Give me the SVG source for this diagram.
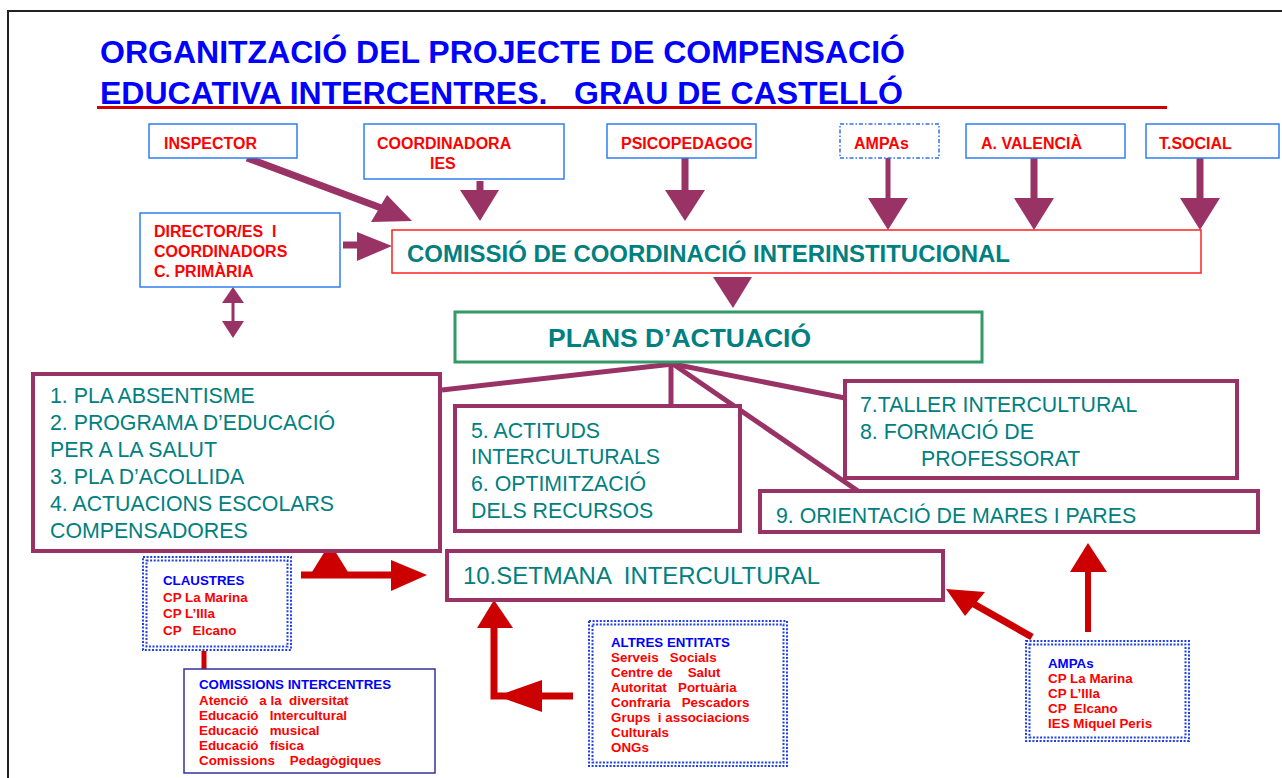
<svg xmlns="http://www.w3.org/2000/svg" width="1282" height="778" viewBox="0 0 1282 778">
<style>
text{font-family:"Liberation Sans",Arial,sans-serif}
.title{font-size:31px;font-weight:bold;fill:#0000ff}
.top{font-size:16px;font-weight:bold;fill:#ff0000}
.bbox{fill:#fff;stroke:#2f7fef;stroke-width:1.5}
.pbox{fill:#fff;stroke:#993366;stroke-width:4}
.teal{fill:#008080;font-size:21.3px}
.tealb{fill:#008080;font-weight:bold}
.sm{font-size:13.4px;font-weight:bold;fill:#ff0000}
.smb{font-size:13.3px;font-weight:bold;fill:#0000ff}
.dot{fill:none;stroke:#1f3fe8;stroke-width:2;stroke-dasharray:2 1.6}
.pl{stroke:#993366;fill:none}
.pf{fill:#993366}
.rl{stroke:#cc0000;fill:none}
.rf{fill:#cc0000}
</style>
<rect x="0" y="0" width="1282" height="778" fill="#fff"/>
<path d="M8,778 V11 H1282" fill="none" stroke="#222" stroke-width="2"/>

<g id="title">
<text class="title" x="100" y="63" textLength="805" lengthAdjust="spacingAndGlyphs">ORGANITZACIÓ DEL PROJECTE DE COMPENSACIÓ</text>
<text class="title" x="100" y="104" textLength="803" lengthAdjust="spacingAndGlyphs" xml:space="preserve">EDUCATIVA INTERCENTRES.   GRAU DE CASTELLÓ</text>
<line x1="97" y1="107.5" x2="1167" y2="107.5" stroke="#cc0000" stroke-width="3"/>
</g>

<g id="connectors">
<line class="pl" x1="247" y1="158" x2="392" y2="212" stroke-width="7"/>
<polygon class="pf" points="387,195 371,222 412,221"/>
<line class="pl" x1="480" y1="181" x2="480" y2="192" stroke-width="7"/>
<polygon class="pf" points="460,190 499,190 480,221"/>
<line class="pl" x1="685" y1="158" x2="685" y2="192" stroke-width="7"/>
<polygon class="pf" points="665,190 705,190 685,221"/>
<line class="pl" x1="888" y1="158" x2="888" y2="200" stroke-width="5"/>
<polygon class="pf" points="868,198 908,198 888,230"/>
<line class="pl" x1="1034" y1="158" x2="1034" y2="200" stroke-width="7"/>
<polygon class="pf" points="1014,198 1054,198 1034,230"/>
<line class="pl" x1="1200" y1="158" x2="1200" y2="200" stroke-width="7"/>
<polygon class="pf" points="1180,198 1220,198 1200,230"/>
<line class="pl" x1="343" y1="245" x2="360" y2="245" stroke-width="7"/>
<polygon class="pf" points="357,232 357,261 392,246"/>
<polygon class="pf" points="713,277 752,277 733,308"/>
<polygon class="pf" points="233,287 222,303 244,303"/>
<line class="pl" x1="233" y1="302" x2="233" y2="322" stroke-width="3"/>
<polygon class="pf" points="222,321 244,321 233,338"/>
<line class="pl" x1="673" y1="364" x2="442" y2="390" stroke-width="5"/>
<line class="pl" x1="671" y1="364" x2="671" y2="406" stroke-width="5"/>
<line class="pl" x1="673" y1="364" x2="845" y2="398" stroke-width="5"/>
<line class="pl" x1="673" y1="364" x2="858" y2="491" stroke-width="5"/>
<polygon class="rf" points="312,572 348,572 330,543"/>
<line class="rl" x1="301" y1="575" x2="395" y2="575" stroke-width="7"/>
<polygon class="rf" points="391,560 391,591 427,575"/>
<line class="rl" x1="204" y1="651" x2="204" y2="669" stroke-width="5"/>
<polyline class="rl" points="573,696 494,696 494,625" stroke-width="7"/>
<polygon class="rf" points="477,628 513,628 494,600"/>
<polygon class="rf" points="542,680 542,712 497,696"/>
<line class="rl" x1="1032" y1="637" x2="972" y2="603" stroke-width="7"/>
<polygon class="rf" points="946,589 985,592 965,616"/>
<line class="rl" x1="1088" y1="632" x2="1088" y2="570" stroke-width="6"/>
<polygon class="rf" points="1070,572 1107,572 1088,543"/>
</g>

<g id="inspector">
<rect class="bbox" x="149" y="124" width="148" height="34"/>
<text class="top" x="164" y="149">INSPECTOR</text>
</g>
<g id="coordinadora">
<rect class="bbox" x="364" y="124" width="200" height="55"/>
<text class="top" x="377" y="149">COORDINADORA</text>
<text class="top" x="430" y="169">IES</text>
</g>
<g id="psicopedagog">
<rect class="bbox" x="607" y="124" width="149" height="34"/>
<text class="top" x="621" y="149">PSICOPEDAGOG</text>
</g>
<g id="ampas-top">
<rect x="840" y="124" width="99" height="34" fill="#fff" stroke="#2f6fef" stroke-width="1.5" stroke-dasharray="4 2 1.5 2"/>
<text class="top" x="854" y="149">AMPAs</text>
</g>
<g id="valencia">
<rect class="bbox" x="966" y="124" width="159" height="34"/>
<text class="top" x="981" y="149">A. VALENCIÀ</text>
</g>
<g id="tsocial">
<rect class="bbox" x="1146" y="124" width="133" height="34"/>
<text class="top" x="1159" y="149">T.SOCIAL</text>
</g>
<g id="director">
<rect class="bbox" x="140" y="213" width="200" height="74"/>
<text class="top" x="154" y="237" xml:space="preserve">DIRECTOR/ES  I</text>
<text class="top" x="154" y="257">COORDINADORS</text>
<text class="top" x="154" y="277">C. PRIMÀRIA</text>
</g>
<g id="comissio">
<rect x="392" y="230" width="809" height="43" fill="#fff" stroke="#ff2020" stroke-width="1.5"/>
<text class="tealb" x="407" y="262" style="font-size:23px" textLength="603" lengthAdjust="spacingAndGlyphs">COMISSIÓ DE COORDINACIÓ INTERINSTITUCIONAL</text>
</g>
<g id="plans">
<rect x="455" y="312" width="527" height="50" fill="#fff" stroke="#339966" stroke-width="3"/>
<text class="tealb" x="548" y="347" style="font-size:26.4px" textLength="263" lengthAdjust="spacingAndGlyphs">PLANS D’ACTUACIÓ</text>
</g>
<g id="box1-4">
<rect class="pbox" x="33" y="374" width="407" height="177"/>
<text class="teal" x="50" y="403">1. PLA ABSENTISME</text>
<text class="teal" x="50" y="430">2. PROGRAMA D’EDUCACIÓ</text>
<text class="teal" x="50" y="457">PER A LA SALUT</text>
<text class="teal" x="50" y="484">3. PLA D’ACOLLIDA</text>
<text class="teal" x="50" y="511">4. ACTUACIONS ESCOLARS</text>
<text class="teal" x="50" y="538">COMPENSADORES</text>
</g>
<g id="box5-6">
<rect class="pbox" x="455" y="406" width="285" height="125"/>
<text class="teal" x="471" y="438">5. ACTITUDS</text>
<text class="teal" x="471" y="464">INTERCULTURALS</text>
<text class="teal" x="471" y="491">6. OPTIMITZACIÓ</text>
<text class="teal" x="471" y="518">DELS RECURSOS</text>
</g>
<g id="box7-8">
<rect class="pbox" x="845" y="381" width="392" height="97"/>
<text class="teal" x="860" y="412">7.TALLER INTERCULTURAL</text>
<text class="teal" x="860" y="439">8. FORMACIÓ DE</text>
<text class="teal" x="921" y="466">PROFESSORAT</text>
</g>
<g id="box9">
<rect class="pbox" x="760" y="491" width="498" height="41"/>
<text class="teal" x="776" y="523">9. ORIENTACIÓ DE MARES I PARES</text>
</g>
<g id="box10">
<rect class="pbox" x="447" y="551" width="496" height="49"/>
<text class="teal" x="463" y="584" style="font-size:23.8px" textLength="357" lengthAdjust="spacingAndGlyphs" xml:space="preserve">10.SETMANA  INTERCULTURAL</text>
</g>
<g id="claustres">
<rect x="142" y="556" width="150" height="95" fill="#fff"/>
<rect class="dot" x="143" y="557" width="148" height="93"/>
<rect class="dot" x="146.5" y="560.5" width="141" height="86"/>
<text class="smb" x="163" y="585">CLAUSTRES</text>
<text class="sm" x="163" y="602">CP La Marina</text>
<text class="sm" x="163" y="618">CP L’Illa</text>
<text class="sm" x="163" y="635" xml:space="preserve">CP   Elcano</text>
</g>
<g id="comissions">
<rect x="184" y="669" width="251" height="104" fill="#fff" stroke="#333399" stroke-width="1.5"/>
<text class="smb" x="199" y="689">COMISSIONS INTERCENTRES</text>
<text class="sm" x="199" y="705" xml:space="preserve">Atenció   a la  diversitat</text>
<text class="sm" x="199" y="720" xml:space="preserve">Educació   Intercultural</text>
<text class="sm" x="199" y="735" xml:space="preserve">Educació   musical</text>
<text class="sm" x="199" y="750" xml:space="preserve">Educació   física</text>
<text class="sm" x="199" y="765" xml:space="preserve">Comissions    Pedagògiques</text>
</g>
<g id="altres">
<rect x="588" y="620" width="200" height="147" fill="#fff"/>
<rect class="dot" x="589" y="621" width="198" height="145"/>
<rect class="dot" x="592.5" y="624.5" width="191" height="138"/>
<text class="smb" x="611" y="647">ALTRES ENTITATS</text>
<text class="sm" x="611" y="662" xml:space="preserve">Serveis   Socials</text>
<text class="sm" x="611" y="677" xml:space="preserve">Centre de    Salut</text>
<text class="sm" x="611" y="692" xml:space="preserve">Autoritat   Portuària</text>
<text class="sm" x="611" y="707" xml:space="preserve">Confraria   Pescadors</text>
<text class="sm" x="611" y="722" xml:space="preserve">Grups  i associacions</text>
<text class="sm" x="611" y="737">Culturals</text>
<text class="sm" x="611" y="752">ONGs</text>
</g>
<g id="ampas-bottom">
<rect x="1025" y="640" width="165" height="102" fill="#fff"/>
<rect class="dot" x="1026" y="641" width="163" height="100"/>
<rect class="dot" x="1029.5" y="644.5" width="156" height="93"/>
<text class="smb" x="1048" y="668">AMPAs</text>
<text class="sm" x="1048" y="683">CP La Marina</text>
<text class="sm" x="1048" y="698">CP L’Illa</text>
<text class="sm" x="1048" y="713" xml:space="preserve">CP  Elcano</text>
<text class="sm" x="1048" y="728">IES Miquel Peris</text>
</g>
</svg>
